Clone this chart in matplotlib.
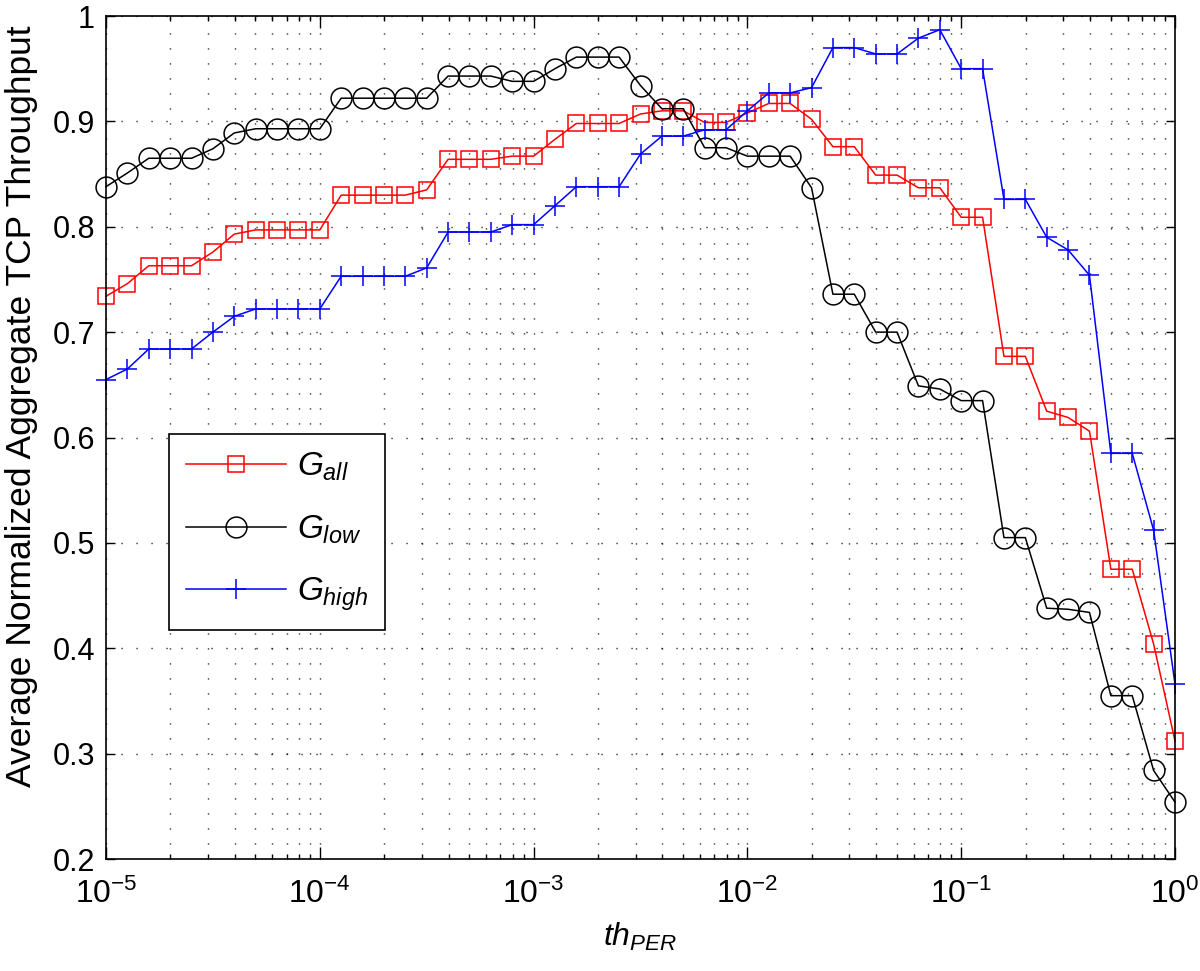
import numpy as np
import matplotlib
matplotlib.use("Agg")
import matplotlib.pyplot as plt
from matplotlib.ticker import LogLocator, FixedLocator, FixedFormatter, NullFormatter

plt.rcParams['font.family'] = ['Liberation Sans', 'DejaVu Sans']
plt.rcParams['mathtext.fontset'] = 'custom'
plt.rcParams['mathtext.rm'] = 'Liberation Sans'
plt.rcParams['mathtext.it'] = 'Liberation Sans:italic'
plt.rcParams['lines.scale_dashes'] = False

# threshold grid, 10 points per decade
th_per = np.logspace(-5, 0, 51)

g_all = [0.734, 0.746, 0.763, 0.763, 0.763, 0.776, 0.793, 0.797, 0.797, 0.797, 0.797,
         0.830, 0.830, 0.830, 0.830, 0.835,
         0.864, 0.864, 0.864, 0.867, 0.867,
         0.883, 0.898, 0.898, 0.898, 0.907, 0.910, 0.910, 0.899, 0.899, 0.908,
         0.917, 0.917, 0.902, 0.876, 0.876, 0.849, 0.849, 0.837, 0.837, 0.809,
         0.809, 0.677, 0.677, 0.625, 0.619, 0.606, 0.475, 0.475, 0.404, 0.312]

g_low = [0.838, 0.851, 0.865, 0.865, 0.865, 0.874, 0.889, 0.893, 0.893, 0.893, 0.893,
         0.922, 0.922, 0.922, 0.922, 0.922,
         0.943, 0.943, 0.943, 0.938, 0.938,
         0.950, 0.961, 0.961, 0.961, 0.934, 0.912, 0.912, 0.875, 0.875, 0.867,
         0.867, 0.867, 0.837, 0.736, 0.736, 0.700, 0.700, 0.649, 0.646, 0.635,
         0.635, 0.505, 0.505, 0.438, 0.437, 0.434, 0.355, 0.355, 0.284, 0.254]

g_high = [0.655, 0.665, 0.684, 0.684, 0.684, 0.700, 0.715, 0.722, 0.722, 0.722, 0.722,
          0.753, 0.753, 0.753, 0.753, 0.761,
          0.795, 0.795, 0.795, 0.802, 0.802,
          0.820, 0.838, 0.838, 0.838, 0.869, 0.886, 0.886, 0.892, 0.892, 0.910,
          0.927, 0.927, 0.932, 0.970, 0.970, 0.964, 0.964, 0.979, 0.987, 0.950,
          0.950, 0.826, 0.826, 0.790, 0.778, 0.754, 0.585, 0.585, 0.512, 0.366]

y_ticks = [0.2, 0.3, 0.4, 0.5, 0.6, 0.7, 0.8, 0.9, 1.0]
y_tick_labels = ['0.2', '0.3', '0.4', '0.5', '0.6', '0.7', '0.8', '0.9', '1']

fig = plt.figure(figsize=(12, 9.71), dpi=100)
ax = fig.add_axes([106/1200, 1 - 859/971, 1069/1200, 843/971])

lw = 1.1
ax.plot(th_per, g_all, color='red', marker='s', ms=12, mfc='none', mew=lw, lw=lw,
        clip_on=False, label=r'$G_{all}$')
ax.plot(th_per, g_low, color='black', marker='o', ms=15, mfc='none', mew=lw, lw=lw,
        clip_on=False, label=r'$G_{low}$')
ax.plot(th_per, g_high, color='blue', marker='+', ms=15, mew=lw, lw=lw,
        clip_on=False, label=r'$G_{high}$')

ax.set_xscale('log')
ax.set_xlim(1e-5, 1)
ax.set_ylim(0.2, 1)
ax.xaxis.set_major_locator(LogLocator(base=10, numticks=10))
ax.xaxis.set_minor_locator(LogLocator(base=10, subs=np.arange(2, 10), numticks=20))
ax.xaxis.set_minor_formatter(NullFormatter())
ax.yaxis.set_major_locator(FixedLocator(y_ticks))
ax.yaxis.set_major_formatter(FixedFormatter(y_tick_labels))

dots = (0, (0.8, 10))
ax.grid(True, which='major', axis='both', color='black', lw=1.0, ls=dots)
ax.grid(True, which='minor', axis='x', color='black', lw=1.0, ls=dots)

ax.tick_params(axis='both', which='both', direction='in', top=True, right=True, width=1.0)
ax.tick_params(axis='x', which='major', length=8.5, pad=14, labelsize=23)
ax.tick_params(axis='y', which='major', length=6.7, pad=8, labelsize=22)
ax.tick_params(axis='x', which='minor', length=3.6)
for s in ax.spines.values():
    s.set_linewidth(1.2)

ax.set_xlabel(r'$th_{PER}$', fontsize=23, labelpad=8)
ax.set_ylabel('Average Normalized Aggregate TCP Throughput', fontsize=25.5)
ax.yaxis.set_label_coords(-0.0635, 0.537)

leg = ax.legend(loc='upper left', bbox_to_anchor=(0.059, 0.504), borderaxespad=0,
                fontsize=24, frameon=True, fancybox=False, edgecolor='black',
                framealpha=1, handlelength=3.0, handletextpad=0.35, labelspacing=0.9,
                borderpad=0.5)
leg.get_frame().set_linewidth(1.2)

fig.savefig('out.png', dpi=100)
